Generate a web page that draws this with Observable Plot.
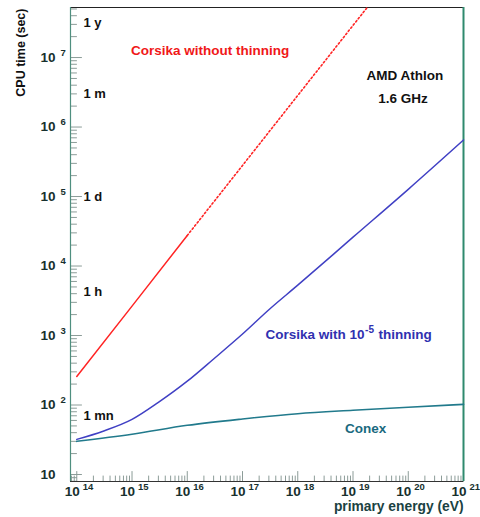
<!DOCTYPE html>
<html><head><meta charset="utf-8">
<script src="https://cdn.jsdelivr.net/npm/d3@7"></script>
<script src="https://cdn.jsdelivr.net/npm/@observablehq/plot@0.6"></script>
<style>body{margin:0;background:#fff;} svg{display:block}</style>
</head><body><div id="chart"></div>
<script>
// ---- data ----
const thinEnergy = [1e14, 3e14, 1e15, 3e15, 1e16, 3e16, 1e17, 3e17, 1e18, 1e19, 1e20, 1e21];
const thinTime   = [32, 42, 62, 109, 220, 460, 1050, 2350, 5300, 2.6e4, 1.27e5, 6.5e5];
const conexEnergy = [1e14, 1e15, 1e16, 1e17, 1e18, 1e19, 1e20, 1e21];
const conexTime   = [30, 38, 51, 63, 75, 84, 93, 102];
const noThinEnergy = [1e14, 1e15, 1e16];
const noThinTime   = [257, 2650, 27500];
const noThinExtEnergy = [1e16, 1e17, 1e18, 1e19, 1e20];
const noThinExtTime   = [27500, 2.8e5, 2.85e6, 2.9e7, 2.95e8];

const yTicks   = [10, 1e2, 1e3, 1e4, 1e5, 1e6, 1e7];
const yTickExp = ["", "2", "3", "4", "5", "6", "7"];
const xTicks   = [1e14, 1e15, 1e16, 1e17, 1e18, 1e19, 1e20, 1e21];
const xTickExp = ["14", "15", "16", "17", "18", "19", "20", "21"];

const timeLabels = ["1 y", "1 m", "1 d", "1 h", "1 mn"];
const timeLabelY = [3.15e7, 3.0e6, 9.8e4, 4.2e3, 71];
const timeLabelX = 1.32e14;

const xDomain = [7.7e13, 1e21];
const yDomain = [7.93, 5.25e7];

// minor ticks
const xMinor = [], yMinor = [];
for (let e = 13; e <= 20; e++) for (let k = 2; k <= 9; k++) {
  const v = k * 10 ** e; if (v > xDomain[0] && v < xDomain[1]) xMinor.push(v);
}
for (let e = 0; e <= 7; e++) for (let k = 2; k <= 9; k++) {
  const v = k * 10 ** e; if (v > yDomain[0] && v < yDomain[1]) yMinor.push(v);
}

const font = "Liberation Sans, Arial, Helvetica, sans-serif";
const tickShape = {draw(ctx, l) { ctx.moveTo(0, 0); ctx.lineTo(0, -l); }};
const tickColor = "#8c9c98";
const labelColor = "#17302e";

const thinData = thinEnergy.map((e, i) => ({e, t: thinTime[i]}));
const conexData = conexEnergy.map((e, i) => ({e, t: conexTime[i]}));
const noThinData = noThinEnergy.map((e, i) => ({e, t: noThinTime[i]}));
const noThinExtData = noThinExtEnergy.map((e, i) => ({e, t: noThinExtTime[i]}));

const chart = Plot.plot({
  width: 480, height: 517,
  marginLeft: 70, marginRight: 17, marginTop: 7, marginBottom: 36,
  style: {fontFamily: font, background: "#fff"},
  x: {type: "log", domain: xDomain, axis: null},
  y: {type: "log", domain: yDomain, axis: null},
  marks: [
    // ticks
    Plot.vector(yTicks, {y: d => d, frameAnchor: "left", length: 11, rotate: 90, anchor: "start", shape: tickShape, stroke: tickColor, strokeWidth: 1}),
    Plot.vector(yMinor, {y: d => d, frameAnchor: "left", length: 6, rotate: 90, anchor: "start", shape: tickShape, stroke: tickColor, strokeWidth: 1}),
    Plot.vector(xTicks, {x: d => d, frameAnchor: "bottom", length: 10, rotate: 0, anchor: "start", shape: tickShape, stroke: tickColor, strokeWidth: 1}),
    Plot.vector(xMinor, {x: d => d, frameAnchor: "bottom", length: 5.5, rotate: 0, anchor: "start", shape: tickShape, stroke: tickColor, strokeWidth: 1}),
    // frame
    Plot.ruleY([yDomain[1]], {stroke: "#222", strokeWidth: 1}),
    Plot.ruleY([yDomain[0]], {stroke: "#333", strokeWidth: 1.2}),
    Plot.ruleX([xDomain[0]], {stroke: "#4f8f7f", strokeWidth: 1.2}),
    Plot.ruleX([xDomain[1]], {stroke: "#2f8a6e", strokeWidth: 2}),
    // curves
    Plot.line(conexData, {x: "e", y: "t", stroke: "#217a8c", strokeWidth: 1.6, curve: "monotone-x"}),
    Plot.line(thinData, {x: "e", y: "t", stroke: "#4040c4", strokeWidth: 1.5, curve: "monotone-x"}),
    Plot.line(noThinData, {x: "e", y: "t", stroke: "#ff2424", strokeWidth: 1.5}),
    Plot.line(noThinExtData, {x: "e", y: "t", stroke: "#ff2424", strokeWidth: 1.6, strokeDasharray: "1.6,2.4", clip: true}),
    // y tick labels
    Plot.text(yTicks, {y: d => d, frameAnchor: "left", text: () => "10", textAnchor: "end", dx: -15, fontSize: 13.5, fontWeight: "bold", fill: labelColor}),
    Plot.text(yTicks, {y: d => d, frameAnchor: "left", text: (d, i) => yTickExp[i], textAnchor: "start", dx: -10, dy: -5, fontSize: 9.5, fontWeight: "bold", fill: labelColor}),
    // x tick labels
    Plot.text(xTicks, {x: d => d, frameAnchor: "bottom", text: () => "10", textAnchor: "start", dx: -12, dy: 14, fontSize: 13.5, fontWeight: "bold", fill: labelColor}),
    Plot.text(xTicks, {x: d => d, frameAnchor: "bottom", text: (d, i) => xTickExp[i], textAnchor: "start", dx: 6, dy: 8.5, fontSize: 9.5, fontWeight: "bold", fill: labelColor}),
    // axis titles
    Plot.text(["CPU time (sec)"], {frameAnchor: "top-left", rotate: -90, textAnchor: "end", dx: -54.5, dy: 1, fontSize: 12.5, fontWeight: "bold", fill: "#111"}),
    Plot.text(["primary energy (eV)"], {frameAnchor: "bottom-right", textAnchor: "end", dy: 29, fontSize: 13.8, fontWeight: "bold", fill: "#1a4242"}),
    // time labels
    Plot.text(timeLabels, {x: () => timeLabelX, y: (d, i) => timeLabelY[i], text: d => d, textAnchor: "start", fontSize: 13, fontWeight: "bold", fill: "#111"}),
    // annotations
    Plot.text(["Corsika without thinning"], {x: () => 2.6e16, y: () => 1.26e7, text: d => d, fontSize: 13.5, fontWeight: "bold", fill: "#f01818"}),
    Plot.text(["AMD Athlon"], {x: () => 8.7e19, y: () => 5.5e6, text: d => d, fontSize: 13.5, fontWeight: "bold", fill: "#111"}),
    Plot.text(["1.6 GHz"], {x: () => 8e19, y: () => 2.57e6, text: d => d, fontSize: 13.5, fontWeight: "bold", fill: "#111"}),
    Plot.text(["Corsika with 10"], {x: () => 1.62e19, y: () => 1020, text: d => d, textAnchor: "end", fontSize: 13.5, fontWeight: "bold", fill: "#3030b0"}),
    Plot.text(["-5"], {x: () => 1.62e19, y: () => 1020, text: d => d, textAnchor: "start", dx: 0.5, dy: -5, fontSize: 10, fontWeight: "bold", fill: "#3030b0"}),
    Plot.text(["thinning"], {x: () => 1.62e19, y: () => 1020, text: d => d, textAnchor: "start", dx: 14, fontSize: 13.5, fontWeight: "bold", fill: "#3030b0"}),
    Plot.text(["Conex"], {x: () => 1.7e19, y: () => 45.6, text: d => d, fontSize: 13.5, fontWeight: "bold", fill: "#1a6a80"})
  ]
});
document.getElementById("chart").append(chart);
</script>
</body></html>
